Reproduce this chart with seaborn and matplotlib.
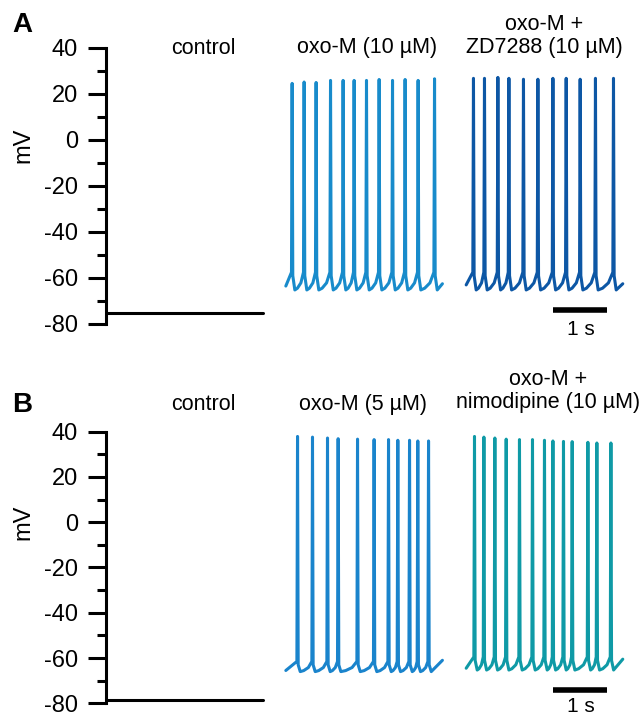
import numpy as np
import pandas as pd
import seaborn as sns
import matplotlib.pyplot as plt
from matplotlib.ticker import MultipleLocator

# trace layout (seconds): each sweep is ~2.9 s, sweeps start every 10/3 s
SWEEP_LEN = 2.9
SWEEP_STARTS = [0.0, 3.33, 6.67]

# ---- panel A ----
A_LABELS = ['control', 'oxo-M (10 µM)', 'oxo-M +\nZD7288 (10 µM)']
A_CONTROL_MV = -75.3
A_OXO_SPIKES = [0.117, 0.339, 0.561, 0.828, 1.061, 1.265, 1.494, 1.728, 1.976, 2.209, 2.450, 2.754]
A_OXO_PEAKS = [24.6, 25.2, 25.0, 25.9, 25.9, 25.9, 25.9, 26.3, 25.9, 26.3, 25.9, 26.6]
A_ZD_SPIKES = [0.135, 0.339, 0.587, 0.791, 1.061, 1.328, 1.606, 1.852, 2.111, 2.394, 2.728]
A_ZD_PEAKS = [26.8, 26.8, 27.2, 26.8, 26.4, 26.4, 26.8, 26.8, 26.4, 26.8, 26.8]
A_OXO_LEVELS = (-65.2, -57.5, -63.5, -62.5)   # trough, threshold, start, end
A_ZD_LEVELS = (-65.2, -57.5, -63.0, -62.5)

# ---- panel B ----
B_LABELS = ['control', 'oxo-M (5 µM)', 'oxo-M +\nnimodipine (10 µM)']
B_CONTROL_MV = -78.5
B_OXO_SPIKES = [0.217, 0.494, 0.772, 0.969, 1.328, 1.635, 1.902, 2.074, 2.291, 2.444, 2.643]
B_OXO_PEAKS = [37.9, 37.6, 37.2, 36.9, 36.7, 36.5, 36.5, 36.2, 36.2, 35.9, 35.9]
B_NIMO_SPIKES = [0.154, 0.328, 0.531, 0.741, 0.987, 1.228, 1.450, 1.606, 1.802, 1.963, 2.254, 2.420, 2.680]
B_NIMO_PEAKS = [37.9, 37.6, 37.2, 36.7, 36.5, 36.5, 36.2, 35.9, 35.7, 35.6, 35.3, 35.0, 35.0]
B_OXO_LEVELS = (-66.0, -61.5, -65.5, -61.0)
B_NIMO_LEVELS = (-65.3, -59.5, -64.5, -60.5)

COLORS = {'control': 'black', 'A_oxo': '#188bcb', 'A_zd': '#0d57a5',
          'B_oxo': '#1a84cc', 'B_nimo': '#0f9aa6'}


def spike_train(spikes, peaks, levels):
    # piecewise sweep: slow ramp to threshold, spike, AHP back to trough
    trough, thresh, v0, v1 = levels
    t, v = [0.0], [v0]
    prev = None
    for ts, pk in zip(spikes, peaks):
        if prev is not None:
            gap = (ts - 0.012) - (prev + 0.05)
            t += [prev + 0.05 + 0.3 * gap, prev + 0.05 + 0.7 * gap]
            v += [trough + 0.1 * (thresh - trough), trough + 0.4 * (thresh - trough)]
        t += [ts - 0.012, ts, ts + 0.012, ts + 0.05]
        v += [thresh, pk, thresh - 1.5, trough]
        prev = ts
    t.append(SWEEP_LEN)
    v.append(v1)
    return np.array(t), np.array(v)


def panel_frame(control_mv, trains):
    frames = [pd.DataFrame({'t': [SWEEP_STARTS[0], SWEEP_STARTS[0] + SWEEP_LEN],
                            'mV': [control_mv, control_mv], 'trace': 'control'})]
    for start, (name, spikes, peaks, levels) in zip(SWEEP_STARTS[1:], trains):
        t, v = spike_train(spikes, peaks, levels)
        frames.append(pd.DataFrame({'t': t + start, 'mV': v, 'trace': name}))
    return pd.concat(frames, ignore_index=True)


sns.set_theme(style='white')
plt.rcParams['font.family'] = ['Liberation Sans', 'DejaVu Sans']
plt.rcParams['axes.unicode_minus'] = False
plt.rcParams['text.color'] = 'black'
plt.rcParams['ytick.color'] = 'black'
plt.rcParams['ytick.labelcolor'] = 'black'

fig = plt.figure(figsize=(6.43, 7.17), dpi=100)
W, H = 643, 717
ax_a = fig.add_axes([106 / W, 1 - 324 / H, 534 / W, 276 / H])
ax_b = fig.add_axes([106 / W, 1 - 703.3 / H, 534 / W, 271.6 / H])

df_a = panel_frame(A_CONTROL_MV, [('A_oxo', A_OXO_SPIKES, A_OXO_PEAKS, A_OXO_LEVELS),
                                  ('A_zd', A_ZD_SPIKES, A_ZD_PEAKS, A_ZD_LEVELS)])
df_b = panel_frame(B_CONTROL_MV, [('B_oxo', B_OXO_SPIKES, B_OXO_PEAKS, B_OXO_LEVELS),
                                  ('B_nimo', B_NIMO_SPIKES, B_NIMO_PEAKS, B_NIMO_LEVELS)])

panels = [
    (ax_a, df_a, A_LABELS, [(1.80, 40.0), (4.83, 40.4), (8.12, 40.4)], 50.0, -73.9, -82.6),
    (ax_b, df_b, B_LABELS, [(1.80, 51.8), (4.76, 51.8), (8.18, 52.7)], 62.9, -74.3, -81.6),
]

for ax, df, labels, title_pos, line1_y, bar_y, bar_txt_y in panels:
    sns.lineplot(data=df, x='t', y='mV', hue='trace', palette=COLORS, sort=False,
                 estimator=None, lw=2.2, legend=False, ax=ax)
    for ln in ax.get_lines():
        ln.set_clip_on(False)
        ln.set_solid_joinstyle('round')
    ax.set_xlim(0, 534 / 54)
    ax.set_ylim(-80, 40)
    ax.yaxis.set_major_locator(MultipleLocator(20))
    ax.yaxis.set_minor_locator(MultipleLocator(10))
    ax.set_xticks([])
    ax.set_xlabel('')
    ax.set_ylabel('')
    for side in ['top', 'right', 'bottom']:
        ax.spines[side].set_visible(False)
    ax.spines['left'].set_linewidth(2.2)
    ax.spines['left'].set_color('black')
    ax.tick_params(axis='y', which='major', direction='out', length=13, width=2.2,
                   labelsize=17, pad=7, left=True, color='black', labelcolor='black')
    ax.tick_params(axis='y', which='minor', direction='out', length=6.5, width=2.2,
                   left=True, color='black')
    ax.patch.set_alpha(0)

    # condition titles
    for lab, (x, y) in zip(labels, title_pos):
        if '\n' in lab:
            top, bottom = lab.split('\n')
            ax.text(x, line1_y, top, ha='center', va='center', fontsize=15.5, clip_on=False)
            ax.text(x, y, bottom, ha='center', va='center', fontsize=15.5, clip_on=False)
        else:
            ax.text(x, y, lab, ha='center', va='center', fontsize=15.5, clip_on=False)

    # 1 s scale bar
    ax.plot([8.28, 9.28], [bar_y, bar_y], color='black', lw=4, solid_capstyle='butt',
            clip_on=False)
    ax.text(8.80, bar_txt_y, '1 s', ha='center', va='center', fontsize=15, clip_on=False)

fig.text(22 / W, 1 - 25 / H, 'A', ha='center', va='center', fontsize=20, fontweight='bold')
fig.text(22 / W, 1 - 405 / H, 'B', ha='center', va='center', fontsize=20, fontweight='bold')
fig.text(23 / W, 1 - 145 / H, 'mV', ha='center', va='center', fontsize=17, rotation=90)
fig.text(23 / W, 1 - 522 / H, 'mV', ha='center', va='center', fontsize=17, rotation=90)

fig.savefig('out.png', dpi=100, facecolor='white')
